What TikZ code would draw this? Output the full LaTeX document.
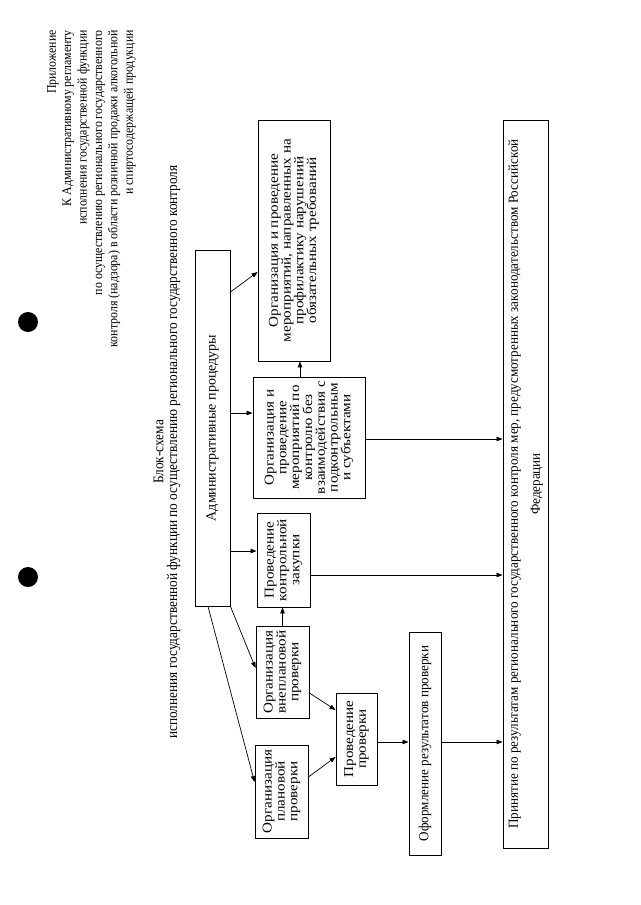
\documentclass[tikz,border=0pt]{standalone}
\usepackage{fontspec}
\setmainfont{Liberation Serif}
\newfontfamily\bxfont{Liberation Serif}[FakeStretch=1.12]
\newfontfamily\hdfont{Liberation Serif}[FakeStretch=0.9]
\newfontfamily\wdfont{Liberation Serif}[FakeStretch=0.95]
\usetikzlibrary{arrows.meta}
\begin{document}
\begin{tikzpicture}[x=1pt,y=-1pt,
  box/.style={draw, line width=0.9pt, inner sep=0pt, align=center, rotate=90,
    font=\bxfont\fontsize{13.5}{12.8}\selectfont},
  widebox/.style={draw, line width=0.9pt, inner sep=0pt, align=center, rotate=90,
    font=\wdfont\fontsize{13.8}{22}\selectfont},
  arr/.style={-{Triangle[length=6pt,width=4.5pt]}, line width=0.7pt}]
\useasboundingbox (0,0) rectangle (640,905);
\fill[white] (0,0) rectangle (640,905);
% punch holes
\fill (28,322) circle (10);
\fill (28,577) circle (10);
% header
\node[rotate=90, anchor=north east, align=right, inner sep=0pt,
  font=\hdfont\fontsize{13.2}{15.4}\selectfont] (hdr) at (47,30)
  {Приложение\\К Административному регламенту\\исполнения государственной функции\\по осуществлению регионального государственного\\контроля (надзора) в области розничной продажи алкогольной\\и спиртосодержащей продукции};
% title
\node[rotate=90, align=center, inner sep=0pt,
  font=\hdfont\fontsize{14.8}{13.5}\selectfont] (ttl) at (167,452)
  {Блок-схема\\исполнения государственной функции по осуществлению регионального государственного контроля};
% boxes
\node[box, minimum width=356pt, minimum height=35pt,
  font=\fontsize{14}{14}\selectfont] (adm) at (212.5,428) {Административные процедуры};
\node[box, minimum width=241pt, minimum height=72pt] (b2) at (294,240.5)
  {Организация и проведение\\мероприятий, направленных на\\профилактику нарушений\\обязательных требований};
\node[box, minimum width=121pt, minimum height=112pt] (b3) at (309,437.5)
  {Организация и\\проведение\\мероприятий по\\контролю без\\взаимодействия с\\подконтрольным\\и субъектами};
\node[box, minimum width=94pt, minimum height=53pt] (b4) at (283.5,560)
  {Проведение\\контрольной\\закупки};
\node[box, minimum width=92pt, minimum height=53pt] (b5) at (282.5,672)
  {Организация\\внеплановой\\проверки};
\node[box, minimum width=93pt, minimum height=53pt] (b6) at (281.5,791.5)
  {Организация\\плановой\\проверки};
\node[box, minimum width=92pt, minimum height=41pt] (b7) at (356.5,739)
  {Проведение\\проверки};
\node[widebox, minimum width=223pt, minimum height=32pt] (b8) at (425,743.5)
  {Оформление результатов проверки};
\node[widebox, minimum width=728pt, minimum height=45pt] (b9) at (525.5,484)
  {Принятие по результатам регионального государственного контроля мер, предусмотренных законодательством Российской\\Федерации};
% connectors
\draw[arr] (adm.south |- 0,292) -- (b2.north |- 0,272);
\draw[arr] (adm.south |- 0,413) -- (b3.north |- 0,413);
\draw[arr] (adm.south |- 0,551) -- (b4.north |- 0,551);
\draw[arr] (adm.south west) -- (b5.north |- 0,668);
\draw[arr] (208,0 |- adm.west) -- (b6.north |- 0,782);
\draw[arr] (b5.east) -- (b5.east |- b4.west);
\draw[arr] (300,0 |- b3.east) -- (300,0 |- b2.west);
\draw[arr] (b5.south |- 0,693) -- (b7.north |- 0,710);
\draw[arr] (b6.south |- 0,777) -- (b7.north |- 0,757);
\draw[arr] (b7.south |- 0,742) -- (b8.north |- 0,742);
\draw[arr] (b8.south |- 0,742) -- (b9.north |- 0,742);
\draw[arr] (b3.south |- 0,439) -- (b9.north |- 0,439);
\draw[arr] (b4.south |- 0,575) -- (b9.north |- 0,575);
\end{tikzpicture}
\end{document}
